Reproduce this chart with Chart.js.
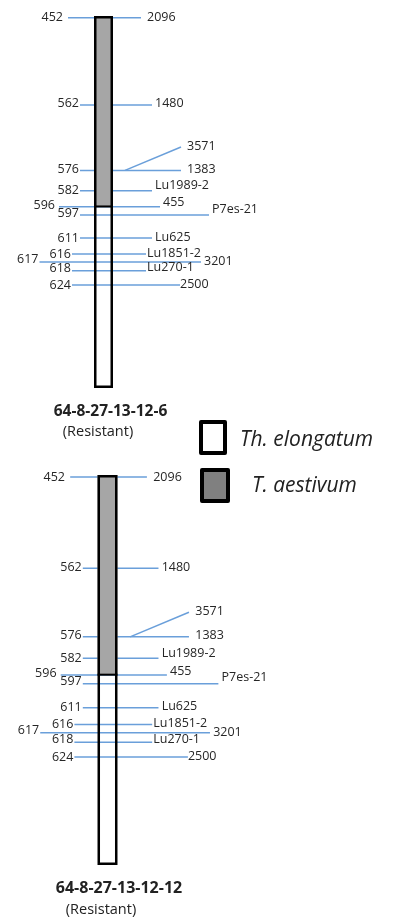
<!DOCTYPE html>
<html>
<head>
<meta charset="utf-8">
<script src="https://cdn.jsdelivr.net/npm/chart.js@4.4.1/dist/chart.umd.min.js"></script>
<style>
  html, body { margin: 0; padding: 0; background: #fff; }
  body { width: 393px; height: 920px; position: relative; overflow: hidden;
         font-family: "Open Sans", "DejaVu Sans", sans-serif; color: #222; }
  canvas { position: absolute; left: 0; }
  .name { position: absolute; white-space: nowrap; transform: translateX(-50%); line-height: 20px; }
  .name.bold { font-weight: 700; }
  .key { position: absolute; box-sizing: border-box; border: 4px solid #000; border-radius: 2px; }
  .keytext { position: absolute; white-space: nowrap; font-style: italic; font-size: 21px; line-height: 24px; color: #222; }
</style>
</head>
<body>
<canvas id="mapA" width="393" height="400" style="top:0px"></canvas>
<canvas id="mapB" width="393" height="420" style="top:460px"></canvas>
<div id="names"></div>
<div id="key"></div>
<script>
// ---- data ---------------------------------------------------------------
// Markers from top to bottom; positions are % of chromosome length from the top end
const leftMarkers  = ['452', '562', '576', '582', '596', '597', '611', '616', '617', '618', '624'];
const rightMarkers = ['2096', '1480', '1383', 'Lu1989-2', '455', 'P7es-21', 'Lu625', 'Lu1851-2', '3201', 'Lu270-1', '2500'];
const mapPositions = [0.5, 23.9, 41.5, 47.0, 51.3, 53.5, 59.7, 64.0, 66.1, 68.5, 72.3];
// 3571 maps to the same locus as 1383 and is labelled through a leader line
const sharedMarker = '3571';
const sharedPosition = 41.5;
// Donor segments along the chromosome (% of length)
const aestivumSegment  = [0, 51.2];
const elongatumSegment = [51.2, 100];
// Lines and their rust reaction
const lineNames = ['64-8-27-13-12-6', '64-8-27-13-12-12'];
const lineReactions = ['(Resistant)', '(Resistant)'];
const keyLabels = ['Th. elongatum', 'T. aestivum'];

// ---- drawing geometry (x in px from the chromosome axis) ----------------
const tickFrom = [-35.5, -23.5, -23.5, -23.5, -44.5, -23.5, -23.5, -31.5, -64, -31.5, -31.5];
const tickTo   = [37.5, 48.5, 77.5, 48.5, 56.5, 105.5, 48.5, 42.5, 97.5, 42.5, 76.5];
const leftGap  = [5, 1, 1, 1, 4, 1, 1, 1, 1, 1, 1];
const rightGap = [6, 3, 6, 3, 3, 3, 3, 1, 3, 1, 0];
const leftDy   = [0, -1, -1, 0, -1.5, -2, 0, 0, -2, -2.5, 0];
const rightDy  = [0, -1, -1, -5, -4, -6, -1, -1, 0, -3, -1];
const leader = { fromX: 21.5, toX: 77.5, toY: 35.2, gap: 6, dy: -1 };
const halfWidth = 9.5;
const panels = [
  { id: 'mapA', axis: 103.5, stretch: 1.0,   padTop: 16, padBottom: 12, title: { x: 110.5, top: 400, size: 15.5 }, sub: { x: 98,  top: 420.5 } },
  { id: 'mapB', axis: 107.5, stretch: 1.051, padTop: 15, padBottom: 15, title: { x: 119,   top: 877, size: 16 },   sub: { x: 101, top: 898.5 } }
];
const markerBlue = '#6a9fda';
const textColor = '#262626';

// Chromosome body, segment boundary and marker names
const chromosomePlugin = {
  id: 'chromosome',
  afterDatasetsDraw(chart) {
    const { ctx } = chart;
    const xs = chart.scales.x, ys = chart.scales.y;
    const lw = 2.5;
    const x0 = xs.getPixelForValue(-halfWidth), x1 = xs.getPixelForValue(halfWidth);
    const yTop = ys.getPixelForValue(0), yBot = ys.getPixelForValue(100);
    const ySeg0 = ys.getPixelForValue(aestivumSegment[0]);
    const ySeg1 = ys.getPixelForValue(aestivumSegment[1]);
    ctx.save();
    // T. aestivum part is filled, Th. elongatum part stays open
    ctx.fillStyle = '#a6a6a6';
    ctx.fillRect(x0, ySeg0, x1 - x0, ySeg1 - ySeg0);
    ctx.strokeStyle = '#000';
    ctx.lineWidth = lw;
    ctx.strokeRect(x0 + lw / 2, yTop + lw / 2, x1 - x0 - lw, yBot - yTop - lw);
    const yB = ys.getPixelForValue(elongatumSegment[0]);
    ctx.lineWidth = 2;
    ctx.beginPath();
    ctx.moveTo(x0, yB);
    ctx.lineTo(x1, yB);
    ctx.stroke();

    ctx.fillStyle = textColor;
    ctx.font = '12.5px "Open Sans", sans-serif';
    ctx.textBaseline = 'middle';
    mapPositions.forEach((p, i) => {
      const y = ys.getPixelForValue(p);
      ctx.textAlign = 'right';
      ctx.fillText(leftMarkers[i], xs.getPixelForValue(tickFrom[i] - leftGap[i]), y + leftDy[i]);
      ctx.textAlign = 'left';
      ctx.fillText(rightMarkers[i], xs.getPixelForValue(tickTo[i] + rightGap[i]), y + rightDy[i]);
    });
    ctx.textAlign = 'left';
    ctx.fillText(sharedMarker, xs.getPixelForValue(leader.toX + leader.gap), ys.getPixelForValue(leader.toY) + leader.dy);
    ctx.restore();
  }
};

function markerDatasets() {
  const sets = mapPositions.map((p, i) => ({
    data: [{ x: tickFrom[i], y: p }, { x: tickTo[i], y: p }]
  }));
  sets.push({ data: [{ x: leader.fromX, y: sharedPosition }, { x: leader.toX, y: leader.toY }] });
  return sets.map(s => Object.assign(s, {
    showLine: true, borderColor: markerBlue, borderWidth: 1.5,
    pointRadius: 0, clip: false, fill: false
  }));
}

panels.forEach(pn => {
  const canvas = document.getElementById(pn.id);
  new Chart(canvas, {
    type: 'scatter',
    data: { datasets: markerDatasets() },
    options: {
      responsive: false,
      animation: false,
      devicePixelRatio: 1,
      events: [],
      layout: { padding: { top: pn.padTop, bottom: pn.padBottom, left: 0, right: 0 } },
      scales: {
        x: { type: 'linear', display: false, min: -pn.axis / pn.stretch, max: (393 - pn.axis) / pn.stretch },
        y: { type: 'linear', display: false, min: 0, max: 100, reverse: true }
      },
      plugins: { legend: { display: false }, tooltip: { enabled: false } }
    },
    plugins: [chromosomePlugin]
  });
});

// Line names under each chromosome
const names = document.getElementById('names');
panels.forEach((pn, i) => {
  const t = document.createElement('div');
  t.className = 'name bold';
  t.style.left = pn.title.x + 'px';
  t.style.top = pn.title.top + 'px';
  t.style.fontSize = pn.title.size + 'px';
  t.textContent = lineNames[i];
  names.appendChild(t);
  const s = document.createElement('div');
  s.className = 'name';
  s.style.left = pn.sub.x + 'px';
  s.style.top = pn.sub.top + 'px';
  s.style.fontSize = '14.5px';
  s.textContent = lineReactions[i];
  names.appendChild(s);
});

// Key for the two genome sources
const key = document.getElementById('key');
const keyBoxes = [
  { left: 199, top: 420, w: 28, h: 35, fill: '#ffffff', textLeft: 240, textTop: 426 },
  { left: 200, top: 468, w: 30, h: 35, fill: '#808080', textLeft: 252, textTop: 472 }
];
keyBoxes.forEach((k, i) => {
  const b = document.createElement('div');
  b.className = 'key';
  Object.assign(b.style, { left: k.left + 'px', top: k.top + 'px', width: k.w + 'px', height: k.h + 'px', background: k.fill });
  key.appendChild(b);
  const t = document.createElement('div');
  t.className = 'keytext';
  Object.assign(t.style, { left: k.textLeft + 'px', top: k.textTop + 'px' });
  t.textContent = keyLabels[i];
  key.appendChild(t);
});
</script>
</body>
</html>
